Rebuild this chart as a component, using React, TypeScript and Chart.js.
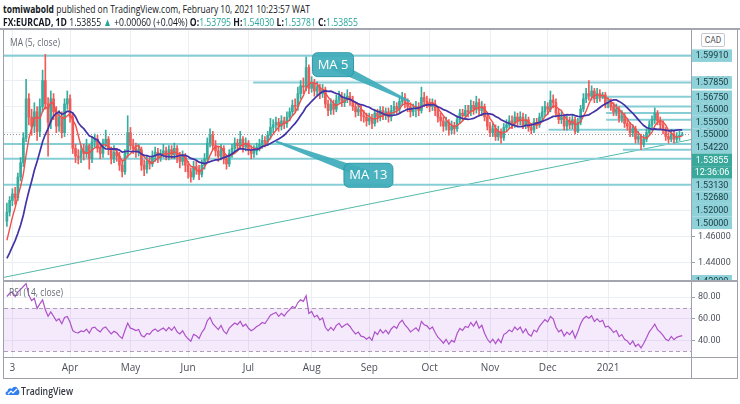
import React, { useEffect, useLayoutEffect, useRef } from 'react';
import { Chart, registerables } from 'chart.js';
Chart.register(...registerables);

// ---------------- data ----------------
// closes before the first visible bar (only used to warm up MA / RSI)
const priorCloses = [1.4520, 1.4535, 1.4510, 1.4490, 1.4500, 1.4470, 1.4455, 1.4480, 1.4460, 1.4430,
  1.4445, 1.4410, 1.4395, 1.4380, 1.4360, 1.4345, 1.4330, 1.4310, 1.4300, 1.4320,
  1.4350, 1.4370, 1.4390, 1.4420, 1.4440, 1.4480, 1.4540, 1.4620];

const firstOpen = 1.472;

const closes = [
  1.479, 1.488, 1.493, 1.490, 1.506, 1.517, 1.536, 1.566, 1.552, 1.545,
  1.556, 1.541, 1.560, 1.580, 1.562, 1.548, 1.566, 1.556, 1.545, 1.552,
  1.540, 1.562, 1.566, 1.552, 1.528, 1.522, 1.521, 1.526, 1.524, 1.530,
  1.520, 1.533, 1.535, 1.528, 1.524, 1.532, 1.535, 1.527, 1.520, 1.525,
  1.522, 1.515, 1.510, 1.524, 1.540, 1.530, 1.528, 1.525, 1.527, 1.515,
  1.512, 1.518, 1.516, 1.522, 1.525, 1.521, 1.524, 1.526, 1.522, 1.527,
  1.523, 1.528, 1.521, 1.518, 1.522, 1.515, 1.510, 1.506, 1.514, 1.512,
  1.508, 1.515, 1.520, 1.532, 1.538, 1.530, 1.526, 1.522, 1.528, 1.520,
  1.516, 1.524, 1.528, 1.532, 1.530, 1.535, 1.529, 1.532, 1.527, 1.524,
  1.526, 1.529, 1.531, 1.534, 1.533, 1.538, 1.544, 1.546, 1.548, 1.545,
  1.549, 1.547, 1.552, 1.556, 1.561, 1.560, 1.570, 1.576, 1.575, 1.590,
  1.574, 1.578, 1.572, 1.575, 1.570, 1.573, 1.562, 1.557, 1.562, 1.558,
  1.565, 1.568, 1.563, 1.566, 1.568, 1.565, 1.560, 1.556, 1.558, 1.553,
  1.552, 1.549, 1.551, 1.547, 1.555, 1.552, 1.557, 1.553, 1.556, 1.552,
  1.557, 1.560, 1.558, 1.564, 1.567, 1.563, 1.560, 1.556, 1.558,
  1.560, 1.557, 1.567, 1.564, 1.563, 1.560, 1.562, 1.557, 1.552, 1.549,
  1.545, 1.548, 1.542, 1.545, 1.543, 1.550, 1.555, 1.553, 1.557, 1.556,
  1.561, 1.558, 1.563, 1.557, 1.560, 1.552, 1.545, 1.540, 1.543, 1.537,
  1.541, 1.536, 1.544, 1.546, 1.549, 1.547, 1.552, 1.549, 1.552, 1.546,
  1.550, 1.544, 1.542, 1.548, 1.546, 1.552, 1.556, 1.560, 1.558, 1.565,
  1.563, 1.555, 1.550, 1.552, 1.545, 1.549, 1.546, 1.550, 1.541, 1.548,
  1.558, 1.566, 1.570, 1.568, 1.572, 1.566, 1.570, 1.567, 1.569, 1.562,
  1.563, 1.560, 1.556, 1.558, 1.551, 1.553, 1.547, 1.545, 1.540, 1.543,
  1.535, 1.537, 1.531, 1.535, 1.540, 1.546, 1.550, 1.555, 1.549, 1.546,
  1.542, 1.537, 1.535, 1.539, 1.535, 1.537, 1.53795, 1.53855];

const highs = [
  1.486, 1.491, 1.497, 1.498, 1.509, 1.521, 1.540, 1.581, 1.570, 1.558,
  1.563, 1.560, 1.566, 1.588, 1.600, 1.567, 1.572, 1.570, 1.560, 1.557,
  1.556, 1.566, 1.572, 1.569, 1.555, 1.531, 1.527, 1.530, 1.531, 1.535,
  1.531, 1.537, 1.539, 1.538, 1.531, 1.535, 1.542, 1.537, 1.529, 1.530,
  1.528, 1.525, 1.518, 1.527, 1.553, 1.544, 1.535, 1.532, 1.531, 1.529,
  1.519, 1.522, 1.521, 1.526, 1.529, 1.528, 1.527, 1.531, 1.529, 1.530,
  1.530, 1.532, 1.530, 1.525, 1.526, 1.524, 1.518, 1.513, 1.518, 1.518,
  1.515, 1.519, 1.524, 1.536, 1.543, 1.541, 1.534, 1.529, 1.531, 1.530,
  1.523, 1.527, 1.531, 1.536, 1.535, 1.541, 1.537, 1.536, 1.534, 1.530,
  1.530, 1.532, 1.535, 1.538, 1.537, 1.541, 1.551, 1.550, 1.552, 1.551,
  1.553, 1.552, 1.556, 1.559, 1.565, 1.566, 1.575, 1.580, 1.582, 1.598,
  1.592, 1.583, 1.581, 1.579, 1.577, 1.577, 1.575, 1.565, 1.566, 1.565,
  1.569, 1.572, 1.571, 1.570, 1.573, 1.571, 1.568, 1.563, 1.562, 1.561,
  1.557, 1.555, 1.555, 1.554, 1.558, 1.558, 1.560, 1.560, 1.559, 1.559,
  1.561, 1.564, 1.563, 1.568, 1.571, 1.570, 1.566, 1.563, 1.562,
  1.564, 1.563, 1.575, 1.571, 1.568, 1.566, 1.566, 1.565, 1.560, 1.555,
  1.552, 1.552, 1.550, 1.549, 1.548, 1.553, 1.558, 1.558, 1.561, 1.561,
  1.565, 1.564, 1.568, 1.566, 1.564, 1.562, 1.555, 1.548, 1.547, 1.546,
  1.545, 1.543, 1.547, 1.550, 1.553, 1.553, 1.556, 1.555, 1.556, 1.555,
  1.554, 1.552, 1.547, 1.551, 1.551, 1.555, 1.560, 1.564, 1.563, 1.572,
  1.569, 1.566, 1.558, 1.556, 1.554, 1.553, 1.552, 1.554, 1.552, 1.551,
  1.561, 1.570, 1.574, 1.580, 1.576, 1.574, 1.574, 1.573, 1.571, 1.571,
  1.567, 1.566, 1.563, 1.562, 1.560, 1.557, 1.555, 1.551, 1.548, 1.546,
  1.545, 1.541, 1.539, 1.538, 1.543, 1.549, 1.553, 1.559, 1.557, 1.552,
  1.549, 1.544, 1.540, 1.542, 1.541, 1.540, 1.541, 1.5403];

const lows = [
  1.468, 1.476, 1.484, 1.485, 1.488, 1.503, 1.514, 1.533, 1.546, 1.538,
  1.540, 1.534, 1.537, 1.556, 1.558, 1.522, 1.543, 1.550, 1.540, 1.541,
  1.536, 1.537, 1.558, 1.548, 1.524, 1.517, 1.516, 1.517, 1.519, 1.521,
  1.512, 1.517, 1.529, 1.525, 1.520, 1.521, 1.529, 1.523, 1.516, 1.517,
  1.518, 1.511, 1.506, 1.508, 1.521, 1.527, 1.524, 1.521, 1.522, 1.511,
  1.507, 1.509, 1.512, 1.514, 1.518, 1.517, 1.518, 1.521, 1.519, 1.519,
  1.520, 1.520, 1.517, 1.513, 1.515, 1.510, 1.505, 1.502, 1.504, 1.508,
  1.504, 1.506, 1.512, 1.518, 1.529, 1.527, 1.522, 1.518, 1.519, 1.516,
  1.512, 1.514, 1.521, 1.525, 1.526, 1.528, 1.525, 1.526, 1.523, 1.520,
  1.521, 1.523, 1.526, 1.528, 1.529, 1.530, 1.535, 1.540, 1.542, 1.541,
  1.542, 1.543, 1.544, 1.549, 1.553, 1.556, 1.557, 1.566, 1.570, 1.572,
  1.570, 1.571, 1.568, 1.569, 1.566, 1.567, 1.559, 1.553, 1.554, 1.554,
  1.556, 1.562, 1.560, 1.560, 1.563, 1.561, 1.557, 1.552, 1.553, 1.549,
  1.548, 1.545, 1.546, 1.543, 1.545, 1.548, 1.549, 1.550, 1.550, 1.548,
  1.549, 1.554, 1.554, 1.555, 1.561, 1.559, 1.556, 1.552, 1.553,
  1.552, 1.553, 1.555, 1.560, 1.559, 1.556, 1.557, 1.553, 1.548, 1.545,
  1.541, 1.542, 1.538, 1.539, 1.539, 1.541, 1.547, 1.549, 1.550, 1.552,
  1.553, 1.554, 1.555, 1.553, 1.553, 1.549, 1.542, 1.537, 1.537, 1.534,
  1.534, 1.532, 1.534, 1.541, 1.543, 1.543, 1.544, 1.545, 1.546, 1.543,
  1.543, 1.541, 1.539, 1.540, 1.543, 1.544, 1.549, 1.553, 1.554, 1.556,
  1.559, 1.552, 1.547, 1.547, 1.542, 1.542, 1.543, 1.543, 1.539, 1.540,
  1.546, 1.556, 1.563, 1.565, 1.565, 1.563, 1.563, 1.564, 1.566, 1.559,
  1.559, 1.557, 1.553, 1.553, 1.548, 1.548, 1.544, 1.542, 1.537, 1.537,
  1.532, 1.532, 1.527, 1.529, 1.533, 1.538, 1.543, 1.547, 1.546, 1.543,
  1.539, 1.534, 1.532, 1.533, 1.532, 1.533, 1.534, 1.53781];

// x axis: bar index of the first trading day of each month
const monthIdx = [2, 23, 45, 66, 88, 111, 132, 154, 176, 197, 219];
const monthLabels = ['3', 'Apr', 'May', 'Jun', 'Jul', 'Aug', 'Sep', 'Oct', 'Nov', 'Dec', '2021'];

const priceTicks = [1.44, 1.46, 1.48, 1.5, 1.52, 1.54, 1.56, 1.58, 1.6];
const rsiTicks = [40, 60, 80];

// horizontal levels drawn by the author (null start = from the left edge)
const levelPrices = [1.5991, 1.5785, 1.5675, 1.56, 1.555, 1.55, 1.5422, 1.5313, 1.5268, 1.52, 1.5];
const levelStartIdx = [null, 89.7, 218.3, 218.3, 218.3, 218.3, 197.3, null, 224.4, null, null];

const trendPrices = [1.429, 1.5347];
const lastPrice = 1.53855;

const axisLabelText = ['1.59910', '1.57850', '1.56750', '1.56000', '1.55500', '1.55000', '1.54220',
  '1.53855', '12:36:06', '1.53130', '1.52680', '1.52000', '1.50000'];
const axisLabelPrice = [1.5991, 1.5785, 1.5675, 1.56, 1.555, 1.55, 1.5422,
  1.53855, 1.53855, 1.5313, 1.5268, 1.52, 1.5];

const calloutText = ['MA 5', 'MA 13'];
const calloutBoxIdx = [118.8, 131.7];
const calloutBoxPrice = [1.5922, 1.5073];
const calloutTipIdx = [146.8, 98.0];
const calloutTipPrice = [1.5638, 1.5332];

// ---------------- layout / style ----------------
const X_MIN = -1.056;
const X_MAX = 249.2;
const P_MIN = 1.42692;
const P_MAX = 1.61956;
const R_MIN = 24.73;
const R_MAX = 94.02;
const AXIS_W = 49;
const FONT = '"Open Sans", Roboto, sans-serif';
const GRID = '#eaeff4';
const UP = '#36ad9f';
const DOWN = '#f05a57';
const MA5_C = '#f0504c';
const MA13_C = '#4233a6';
const LEVEL_C = '#86ced6';
const TREND_C = '#52b9a8';
const CALLOUT_C = 'rgba(64,172,186,0.93)';
const LABEL_BG = '#8fd1d8';
const LABEL_TXT = '#173a40';
const CUR_BG = '#3aa99b';
const RSI_C = '#ad52c8';
const FRAME = '#9ea1aa';

Chart.defaults.font.family = 'Roboto';

// opens: FX daily bars open at the previous close
const opens = closes.map((c, i) => (i === 0 ? firstOpen : closes[i - 1]));
const allCloses = [...priorCloses, ...closes];

function sma(n: number) {
  return closes.map((_, i) => {
    const end = priorCloses.length + i;
    let s = 0;
    for (let k = end - n + 1; k <= end; k++) s += allCloses[k];
    return s / n;
  });
}

function rsi(n: number) {
  const out: number[] = [];
  let ag = 0, al = 0;
  for (let k = 1; k < allCloses.length; k++) {
    const d = allCloses[k] - allCloses[k - 1];
    const g = Math.max(d, 0), l = Math.max(-d, 0);
    if (k <= n) { ag += g / n; al += l / n; }
    else { ag = (ag * (n - 1) + g) / n; al = (al * (n - 1) + l) / n; }
    out[k] = al === 0 ? 100 : 100 - 100 / (1 + ag / al);
  }
  return closes.map((_, i) => out[priorCloses.length + i]);
}

function noPad(s: any) {
  s.paddingTop = 0; s.paddingBottom = 0; s.paddingLeft = 0; s.paddingRight = 0;
}

function monthXScale(showLabels: boolean): any {
  return {
    type: 'linear', min: X_MIN, max: X_MAX, offset: false,
    grid: { color: GRID, drawTicks: false, offset: false },
    border: { display: false },
    afterBuildTicks: (s: any) => { s.ticks = monthIdx.map((v) => ({ value: v })); },
    ticks: {
      display: showLabels, autoSkip: false, maxRotation: 0, padding: 5,
      color: '#4c4f59', font: { size: 10, family: FONT },
      callback: (v: any) => monthLabels[monthIdx.indexOf(Number(v))] ?? '',
    },
    afterFit: (s: any) => { s.height = showLabels ? 21 : 0; noPad(s); },
  };
}

function rightYScale(min: number, max: number, ticks: number[], digits: number): any {
  return {
    type: 'linear', position: 'right', min, max,
    grid: { color: GRID, drawTicks: true, tickLength: 4, tickColor: '#9ea1aa' },
    border: { display: false },
    afterBuildTicks: (s: any) => { s.ticks = ticks.map((v) => ({ value: v })); },
    afterFit: (s: any) => { s.width = AXIS_W; noPad(s); },
    ticks: { color: '#50535e', font: { size: 9, family: 'Roboto' }, padding: 3, callback: (v: any) => Number(v).toFixed(digits) },
  };
}

const mainOverlay = {
  id: 'mainOverlay',
  afterDatasetsDraw(chart: any) {
    const { ctx, chartArea: a, scales: { x, y } } = chart;
    ctx.save();
    ctx.beginPath();
    ctx.rect(a.left, a.top, a.right - a.left, a.bottom - a.top);
    ctx.clip();
    const widths = [41, 49];
    calloutText.forEach((t, k) => {
      const bx = x.getPixelForValue(calloutBoxIdx[k]);
      const by = y.getPixelForValue(calloutBoxPrice[k]);
      const tx = x.getPixelForValue(calloutTipIdx[k]);
      const ty = y.getPixelForValue(calloutTipPrice[k]);
      const dx = tx - bx, dy = ty - by, len = Math.hypot(dx, dy);
      const px = -dy / len, py = dx / len;
      ctx.fillStyle = CALLOUT_C;
      ctx.beginPath();
      ctx.moveTo(bx + px * 5, by + py * 5);
      ctx.lineTo(tx + px * 1, ty + py * 1);
      ctx.lineTo(tx - px * 1, ty - py * 1);
      ctx.lineTo(bx - px * 5, by - py * 5);
      ctx.closePath();
      ctx.fill();
      const w = widths[k], h = 24;
      ctx.beginPath();
      (ctx as any).roundRect(bx - w / 2, by - h / 2, w, h, 5);
      ctx.fillStyle = CALLOUT_C;
      ctx.fill();
      ctx.strokeStyle = 'rgba(40,150,165,0.9)';
      ctx.lineWidth = 1;
      ctx.stroke();
      ctx.fillStyle = '#ffffff';
      ctx.font = `13px ${FONT}`;
      ctx.textAlign = 'center';
      ctx.textBaseline = 'middle';
      ctx.fillText(t, bx, by + 0.5);
    });
    ctx.restore();
  },
  afterDraw(chart: any) {
    const { ctx, chartArea: a, scales: { y } } = chart;
    const H = 12.6;
    const left = a.right + 1;
    const w = 40;
    ctx.save();
    ctx.font = '9px Roboto';
    ctx.textAlign = 'center';
    ctx.textBaseline = 'middle';
    // clipped label at the lower edge
    ctx.fillStyle = LABEL_BG;
    ctx.fillRect(left, a.bottom - 5, w, H);
    ctx.fillStyle = LABEL_TXT;
    ctx.fillText('1.42000', left + w / 2, a.bottom + 1.3);
    let prev = -Infinity;
    axisLabelText.forEach((t, k) => {
      let cy = y.getPixelForValue(axisLabelPrice[k]);
      cy = Math.max(cy, prev + H);
      prev = cy;
      const cur = axisLabelPrice[k] === lastPrice;
      ctx.fillStyle = cur ? CUR_BG : LABEL_BG;
      ctx.fillRect(left, cy - H / 2, w, H);
      ctx.fillStyle = cur ? '#ffffff' : LABEL_TXT;
      ctx.fillText(t, left + w / 2, cy + 0.5);
    });
    ctx.restore();
  },
};

const rsiOverlay = {
  id: 'rsiOverlay',
  beforeDatasetsDraw(chart: any) {
    const { ctx, chartArea: a, scales: { y } } = chart;
    const y70 = y.getPixelForValue(70), y30 = y.getPixelForValue(30);
    ctx.save();
    ctx.fillStyle = 'rgba(190,120,235,0.16)';
    ctx.fillRect(a.left, y70, a.right - a.left, y30 - y70);
    ctx.strokeStyle = 'rgba(150,130,160,0.75)';
    ctx.setLineDash([4, 3]);
    ctx.lineWidth = 1;
    [y70, y30].forEach((yy) => {
      ctx.beginPath();
      ctx.moveTo(a.left, Math.round(yy) + 0.5);
      ctx.lineTo(a.right, Math.round(yy) + 0.5);
      ctx.stroke();
    });
    ctx.restore();
  },
};

function MainChart() {
  const ref = useRef<HTMLCanvasElement>(null);
  useEffect(() => {
    if (!ref.current) return;
    const ma5 = sma(5);
    const ma13 = sma(13);
    const candleColor = (c: any) => (closes[c.dataIndex] >= opens[c.dataIndex] ? UP : DOWN);
    const datasets: any[] = [
      { type: 'line', data: ma13.map((v, i) => ({ x: i, y: v })), borderColor: MA13_C, borderWidth: 1.7, pointRadius: 0, order: 0 },
      { type: 'line', data: ma5.map((v, i) => ({ x: i, y: v })), borderColor: MA5_C, borderWidth: 1.4, pointRadius: 0, order: 1 },
      { type: 'bar', data: closes.map((c, i) => ({ x: i, y: [opens[i], c] })), backgroundColor: candleColor, barThickness: 2, minBarLength: 1, grouped: false, borderWidth: 0, order: 2 },
      { type: 'bar', data: closes.map((_, i) => ({ x: i, y: [lows[i], highs[i]] })), backgroundColor: candleColor, barThickness: 1, grouped: false, borderWidth: 0, order: 3 },
      { type: 'line', data: [{ x: X_MIN, y: lastPrice }, { x: X_MAX, y: lastPrice }], borderColor: '#8c9199', borderWidth: 1, borderDash: [1, 2], pointRadius: 0, order: 4 },
      ...levelPrices.map((p, k) => ({
        type: 'line', data: [{ x: levelStartIdx[k] ?? X_MIN, y: p }, { x: X_MAX, y: p }],
        borderColor: LEVEL_C, borderWidth: 2, pointRadius: 0, order: 5,
      })),
      { type: 'line', data: [{ x: X_MIN, y: trendPrices[0] }, { x: X_MAX, y: trendPrices[1] }], borderColor: TREND_C, borderWidth: 1, pointRadius: 0, order: 6 },
    ];
    const chart = new Chart(ref.current, {
      type: 'bar',
      data: { datasets },
      options: {
        responsive: false, animation: false, events: [],
        layout: { padding: { left: 4, right: 0, top: 0, bottom: 1 } },
        plugins: { legend: { display: false }, tooltip: { enabled: false } },
        scales: {
          x: monthXScale(false),
          y: rightYScale(P_MIN, P_MAX, priceTicks, 5),
        },
      } as any,
      plugins: [mainOverlay],
    });
    return () => chart.destroy();
  }, []);
  return <canvas ref={ref} width={740} height={252} style={{ position: 'absolute', left: 0, top: 29, width: 740, height: 252 }} />;
}

function RsiChart() {
  const ref = useRef<HTMLCanvasElement>(null);
  useEffect(() => {
    if (!ref.current) return;
    const r = rsi(14);
    const chart = new Chart(ref.current, {
      type: 'line',
      data: { datasets: [{ data: r.map((v, i) => ({ x: i, y: v })), borderColor: RSI_C, borderWidth: 1.2, pointRadius: 0 }] },
      options: {
        responsive: false, animation: false, events: [],
        layout: { padding: { left: 4, right: 0, top: 1, bottom: 0 } },
        plugins: { legend: { display: false }, tooltip: { enabled: false } },
        scales: {
          x: monthXScale(true),
          y: rightYScale(R_MIN, R_MAX, rsiTicks, 2),
        },
      } as any,
      plugins: [rsiOverlay],
    });
    return () => chart.destroy();
  }, []);
  return <canvas ref={ref} width={740} height={97} style={{ position: 'absolute', left: 0, top: 281, width: 740, height: 97 }} />;
}

function Fit(props: { x: number; y: number; w: number; size: number; color?: string; weight?: number; children: any }) {
  const ref = useRef<HTMLDivElement>(null);
  useLayoutEffect(() => {
    const el = ref.current;
    if (!el) return;
    el.style.transform = 'none';
    const nat = el.getBoundingClientRect().width;
    if (nat > 0) el.style.transform = `scaleX(${props.w / nat})`;
  });
  return (
    <div ref={ref} style={{
      position: 'absolute', left: props.x, top: props.y, fontSize: props.size, lineHeight: 1.2,
      whiteSpace: 'nowrap', fontFamily: FONT, color: props.color ?? '#131722', fontWeight: props.weight ?? 400,
      transformOrigin: '0 0',
    }}>{props.children}</div>
  );
}

function Line(p: { x: number; y: number; w: number; h: number; c?: string }) {
  return <div style={{ position: 'absolute', left: p.x, top: p.y, width: p.w, height: p.h, background: p.c ?? FRAME }} />;
}

export default function App() {
  const teal = { color: '#26a69a' };
  return (
    <div style={{ position: 'fixed', left: 0, top: 0, width: 740, height: 404, background: '#ffffff', overflow: 'hidden' }}>
      <MainChart />
      <RsiChart />
      <Line x={0} y={28} w={740} h={2} c="#a3a6ae" />
      <Line x={3} y={29} w={1} h={349} />
      <Line x={691} y={29} w={1} h={349} />
      <Line x={737} y={29} w={1} h={349} />
      <Line x={3} y={280} w={735} h={2} c="#a3a6ae" />
      <Line x={3} y={357} w={735} h={1} />
      <Line x={3} y={378} w={735} h={1} />
      <Fit x={3} y={1.5} w={307} size={11}><b>tomiwabold</b> published on TradingView.com, February 10, 2021 10:23:57 WAT</Fit>
      <Fit x={3} y={14.5} w={355} size={11}>
        <b>FX:EURCAD, 1D</b> 1.53855 <span style={teal}>▲</span> +0.00060 (+0.04%) <b>O:</b><span style={teal}>1.53795</span> <b>H:</b><span style={teal}>1.54030</span> <b>L:</b><span style={teal}>1.53781</span> <b>C:</b><span style={teal}>1.53855</span>
      </Fit>
      <Fit x={10} y={35.5} w={50} size={10} color="#6a6d78">MA (5, close)</Fit>
      <Fit x={9} y={285.5} w={54} size={10} color="#6a6d78">RSI (14, close)</Fit>
      <div style={{
        position: 'absolute', left: 701, top: 33, width: 22, height: 12, border: '1px solid #c5c8cf', borderRadius: 2,
        fontFamily: 'Roboto', fontSize: 8.5, lineHeight: '12px', textAlign: 'center', color: '#50535e', background: '#fff',
      }}>CAD</div>
      <svg style={{ position: 'absolute', left: 5, top: 385 }} width={15} height={11} viewBox="0 0 15 11">
        <path d="M2 10 C0 10 0 6.5 2.5 6.3 C2.5 3.5 5.5 2.5 7 4 C8 1 12.5 1 13 4.5 C15 5 15 10 12.5 10 Z" fill="#2f7ff0" />
        <path d="M3 9 L6 6 L8 8 L12 4" stroke="#ffffff" strokeWidth={1.2} fill="none" />
      </svg>
      <Fit x={21} y={385} w={52} size={10.5} weight={600} color="#333740">TradingView</Fit>
    </div>
  );
}
